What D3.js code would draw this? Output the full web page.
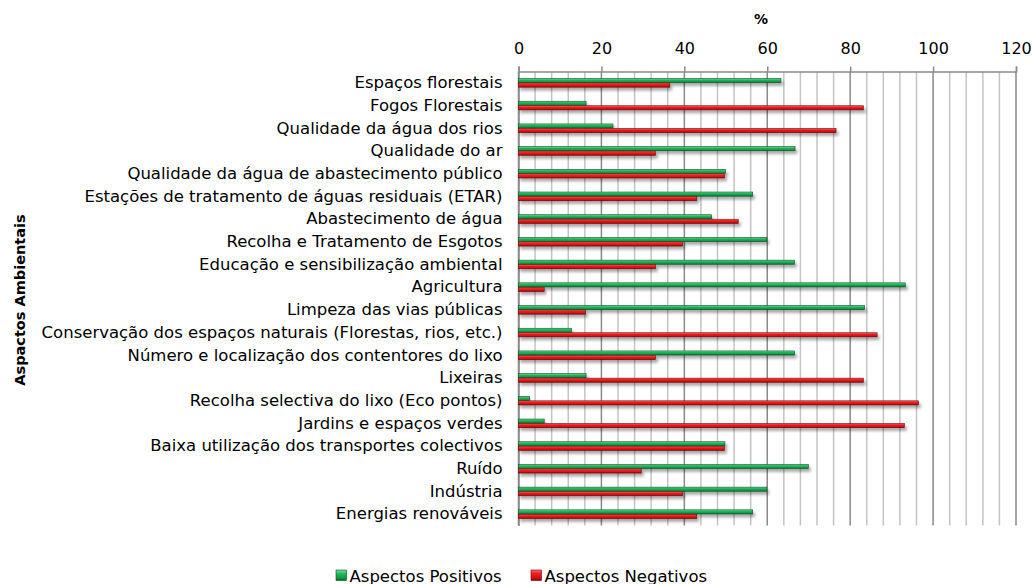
<!DOCTYPE html>
<html>
<head>
<meta charset="utf-8">
<script src="https://cdn.jsdelivr.net/npm/d3@7"></script>
<style>
  html, body { margin: 0; padding: 0; background: #fff; }
  svg { display: block; }
  text { font-family: "DejaVu Sans", Verdana, sans-serif; fill: #000; }
</style>
</head>
<body>
<svg id="chart" width="1034" height="584"></svg>
<script>
const categories = [
  "Espaços florestais",
  "Fogos Florestais",
  "Qualidade da água dos rios",
  "Qualidade do ar",
  "Qualidade da água de abastecimento público",
  "Estações de tratamento de águas residuais (ETAR)",
  "Abastecimento de água",
  "Recolha e Tratamento de Esgotos",
  "Educação e sensibilização ambiental",
  "Agricultura",
  "Limpeza das vias públicas",
  "Conservação dos espaços naturais (Florestas, rios, etc.)",
  "Número e localização dos contentores do lixo",
  "Lixeiras",
  "Recolha selectiva do lixo (Eco pontos)",
  "Jardins e espaços verdes",
  "Baixa utilização dos transportes colectivos",
  "Ruído",
  "Indústria",
  "Energias renováveis"
];
const positivos = [63.3, 16.3, 22.8, 66.7, 49.9, 56.5, 46.6, 59.9, 66.6, 93.3, 83.5, 12.8, 66.6, 16.3, 2.7, 6.2, 49.8, 69.9, 59.9, 56.5];
const negativos = [36.5, 83.2, 76.6, 33.0, 49.7, 43.0, 53.0, 39.6, 33.0, 6.2, 16.2, 86.5, 33.0, 83.2, 96.5, 93.1, 49.7, 29.6, 39.6, 43.0];
const seriesNames = ["Aspectos Positivos", "Aspectos Negativos"];
const xTicks = [0, 20, 40, 60, 80, 100, 120];
const xTitle = "%";
const yTitle = "Aspactos Ambientais";

(function () {
const svg = d3.select("#chart");
const pLeft = 518.5, pRight = 1016, pTop = 71.5, pBottom = 525.5;

const x = d3.scaleLinear().domain([0, 120]).range([pLeft, pRight]);
const y = d3.scaleBand().domain(categories).range([pTop, pBottom]).paddingInner(0.62).paddingOuter(0.31);
const ySub = d3.scaleBand().domain(seriesNames).range([0, y.bandwidth()]).paddingInner(0.08);

const defs = svg.append("defs");
function grad(id, stops) {
  const g = defs.append("linearGradient").attr("id", id).attr("x1", 0).attr("y1", 0).attr("x2", 0).attr("y2", 1);
  stops.forEach(s => g.append("stop").attr("offset", s[0]).attr("stop-color", s[1]));
}
grad("gGreen", [[0, "#6fe09a"], [0.35, "#20b75a"], [0.75, "#139a47"], [1, "#0b5e2a"]]);
grad("gRed", [[0, "#ff6a6a"], [0.35, "#f01c1c"], [0.75, "#d60f12"], [1, "#7a0a0a"]]);
const f = defs.append("filter").attr("id", "shadow").attr("x", "-5%").attr("y", "-50%").attr("width", "115%").attr("height", "300%");
f.append("feGaussianBlur").attr("in", "SourceAlpha").attr("stdDeviation", 1.6).attr("result", "b");
f.append("feOffset").attr("in", "b").attr("dx", 2).attr("dy", 3).attr("result", "o");
f.append("feComponentTransfer").attr("in", "o").attr("result", "o2")
  .append("feFuncA").attr("type", "linear").attr("slope", 0.35);
const fm = f.append("feMerge");
fm.append("feMergeNode").attr("in", "o2");
fm.append("feMergeNode").attr("in", "SourceGraphic");

// minor gridlines
const minor = d3.range(0, 121, 4).filter(v => v % 20 !== 0);
svg.append("g").selectAll("line").data(minor).join("line")
  .attr("x1", d => x(d)).attr("x2", d => x(d))
  .attr("y1", pTop).attr("y2", pBottom)
  .attr("stroke", "#c4c4c4").attr("stroke-width", 1.5);

// major gridlines
svg.append("g").selectAll("line").data(xTicks).join("line")
  .attr("x1", d => x(d)).attr("x2", d => x(d))
  .attr("y1", pTop).attr("y2", pBottom)
  .attr("stroke", "#8a8a8a").attr("stroke-width", 1.5);

// top axis
const xAxis = d3.axisTop(x).tickValues(xTicks).tickSize(5).tickPadding(13).tickFormat(d3.format("d"));
const ax = svg.append("g").attr("transform", `translate(0,${pTop})`).call(xAxis);
ax.select(".domain").attr("stroke", "#8a8a8a").attr("stroke-width", 1.5);
ax.selectAll(".tick line").attr("stroke", "#8a8a8a").attr("stroke-width", 1.5);
ax.selectAll(".tick text").attr("font-size", "16px").attr("font-family", "DejaVu Sans").attr("fill", "#000");

// left axis labels
const yAxis = d3.axisLeft(y).tickSize(0).tickPadding(16);
const ay = svg.append("g").attr("transform", `translate(${pLeft},0)`).call(yAxis);
ay.select(".domain").attr("stroke", "#8a8a8a").attr("stroke-width", 1.5);
ay.selectAll(".tick text").attr("font-size", "16.5px").attr("font-family", "DejaVu Sans").attr("fill", "#000");

// bars
const rows = categories.map((c, i) => ({ c, pos: positivos[i], neg: negativos[i] }));
const g = svg.append("g");
g.selectAll("rect.pos").data(rows).join("rect").attr("class", "pos")
  .attr("x", x(0)).attr("y", d => y(d.c) + ySub(seriesNames[0]))
  .attr("width", d => x(d.pos) - x(0)).attr("height", ySub.bandwidth())
  .attr("fill", "url(#gGreen)").attr("stroke", "#0c4f24").attr("stroke-width", 0.6)
  .attr("filter", "url(#shadow)");
g.selectAll("rect.neg").data(rows).join("rect").attr("class", "neg")
  .attr("x", x(0)).attr("y", d => y(d.c) + ySub(seriesNames[1]))
  .attr("width", d => x(d.neg) - x(0)).attr("height", ySub.bandwidth())
  .attr("fill", "url(#gRed)").attr("stroke", "#6a0808").attr("stroke-width", 0.6)
  .attr("filter", "url(#shadow)");

// titles
svg.append("text").attr("x", 761).attr("y", 24).attr("text-anchor", "middle")
  .attr("font-size", "14px").attr("font-weight", "bold").text(xTitle);
svg.append("text").attr("transform", `translate(25,300) rotate(-90)`).attr("text-anchor", "middle")
  .attr("font-size", "14.5px").attr("font-weight", "bold").text(yTitle);

// legend
const legend = svg.append("g");
const legItems = [
  { name: seriesNames[0], fill: "url(#gGreen)", stroke: "#0c4f24", x: 336 },
  { name: seriesNames[1], fill: "url(#gRed)", stroke: "#6a0808", x: 531 }
];
legItems.forEach(it => {
  legend.append("rect").attr("x", it.x).attr("y", 570).attr("width", 10.5).attr("height", 10.5)
    .attr("fill", it.fill).attr("stroke", it.stroke).attr("stroke-width", 0.6);
  legend.append("text").attr("x", it.x + 13.5).attr("y", 581.5).attr("font-size", "16.5px").text(it.name);
});
})();
</script>
</body>
</html>
